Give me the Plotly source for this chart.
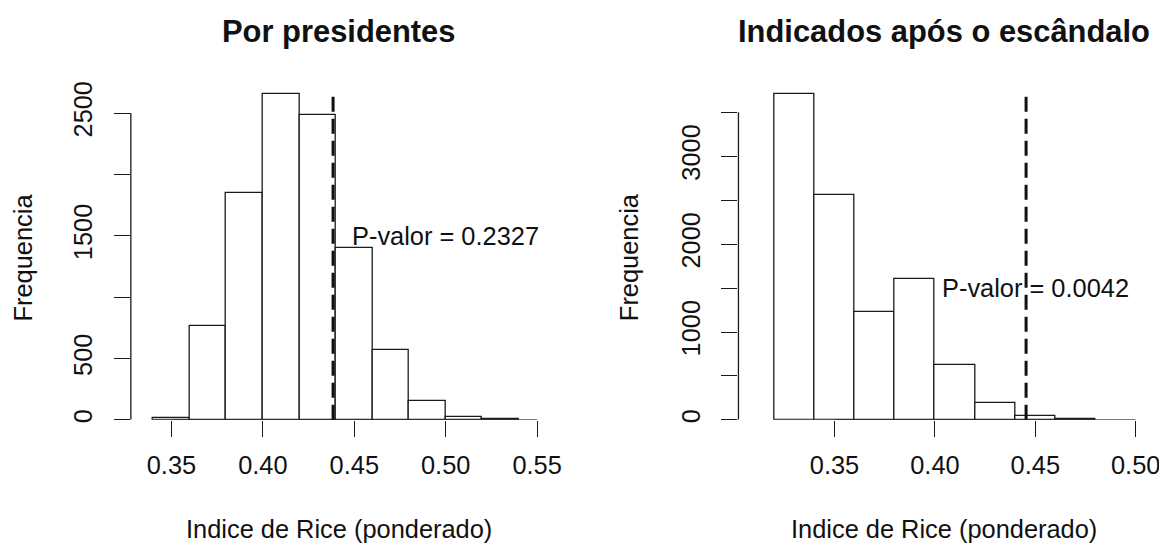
import plotly.graph_objects as go

# ---- data ----
left_breaks = [0.34, 0.36, 0.38, 0.40, 0.42, 0.44, 0.46, 0.48, 0.50, 0.52, 0.54]
left_counts = [15, 768, 1851, 2655, 2484, 1403, 570, 155, 27, 5]
left_obs = 0.4384
left_label = "P-valor = 0.2327"
left_label_pos = (0.50, 1500)

right_breaks = [0.32, 0.34, 0.36, 0.38, 0.40, 0.42, 0.44, 0.46, 0.48]
right_counts = [3712, 2557, 1231, 1598, 625, 189, 40, 15]
right_obs = 0.4454
right_label = "P-valor = 0.0042"
right_label_pos = (0.45, 1500)

left_xticks = [0.35, 0.40, 0.45, 0.50, 0.55]
left_yticks = [0, 500, 1000, 1500, 2000, 2500]
left_yticklabels = ["0", "500", "", "1500", "", "2500"]
right_xticks = [0.35, 0.40, 0.45, 0.50]
right_yticks = [0, 500, 1000, 1500, 2000, 2500, 3000, 3500]
right_yticklabels = ["0", "", "1000", "", "2000", "", "3000", ""]

titles = ["Por presidentes", "Indicados após o escândalo"]
xlabel = "Indice de Rice (ponderado)"
ylabel = "Frequencia"

# ---- geometry ----
# positions below are given in target-picture pixels and converted to page pixels
SX, SY, OY = 0.988, 0.975, 10.9          # observed capture mapping page -> picture
W, H = 1173, 548                         # page size of the figure

def pg_x(X):
    return X / SX

def pg_y(Y):
    return (Y - OY) / SY

def fx(X):
    return pg_x(X) / W

def fy(Y):
    return 1 - pg_y(Y) / H

FONT = "Liberation Sans, Arial, Helvetica, sans-serif"
FS = 25.4
TFS = 30.9
LC = "#1a1a1a"

y_bottom, y_top = 420, 92

L_dom = (130.5, 549)
Lsx = (535.7 - 171) / 0.20
L_xr = [0.35 - (171 - L_dom[0]) / Lsx, 0.35 + (L_dom[1] - 171) / Lsx]
Lsy = (420 - 113) / 2500
L_yr = [0, (y_bottom - y_top) / Lsy]

R_dom = (736.5, 1150)
Rsx = (1132.7 - 832.3) / 0.15
R_xr = [0.35 - (832.3 - R_dom[0]) / Rsx, 0.35 + (R_dom[1] - 832.3) / Rsx]
Rsy = (420 - 112.3) / 3500
R_yr = [0, (y_bottom - y_top) / Rsy]

fig = go.Figure()

def add_hist(breaks, counts, xa, ya):
    centers = [(breaks[i] + breaks[i + 1]) / 2 for i in range(len(counts))]
    widths = [breaks[i + 1] - breaks[i] for i in range(len(counts))]
    fig.add_trace(go.Bar(x=centers, y=counts, width=widths, xaxis=xa, yaxis=ya,
                         marker=dict(color="white", line=dict(color=LC, width=1.3)),
                         showlegend=False, hoverinfo="x+y"))

add_hist(left_breaks, left_counts, "x", "y")
add_hist(right_breaks, right_counts, "x2", "y2")

ax_common = dict(showgrid=False, zeroline=False, showline=False, ticks="outside",
                 tickcolor=LC, tickwidth=1.3, tickfont=dict(family=FONT, size=FS, color="#111"),
                 fixedrange=True)

fig.update_layout(
    width=W, height=H, margin=dict(l=0, r=0, t=0, b=0, pad=0),
    paper_bgcolor="white", plot_bgcolor="white", bargap=0,
    xaxis=dict(domain=[fx(L_dom[0]), fx(L_dom[1])], range=L_xr, anchor="y",
               tickvals=left_xticks, ticktext=[f"{v:.2f}" for v in left_xticks],
               ticklen=16.4, ticklabelstandoff=6, **ax_common),
    yaxis=dict(domain=[fy(y_bottom), fy(y_top)], range=L_yr, anchor="x",
               tickvals=left_yticks, ticktext=left_yticklabels, tickangle=-90,
               ticklen=16.2, ticklabelstandoff=11, **ax_common),
    xaxis2=dict(domain=[fx(R_dom[0]), fx(R_dom[1])], range=R_xr, anchor="y2",
                tickvals=right_xticks, ticktext=[f"{v:.2f}" for v in right_xticks],
                ticklen=16.4, ticklabelstandoff=6, **ax_common),
    yaxis2=dict(domain=[fy(y_bottom), fy(y_top)], range=R_yr, anchor="x2",
                tickvals=right_yticks, ticktext=right_yticklabels, tickangle=-90,
                ticklen=16.2, ticklabelstandoff=11, **ax_common),
)

shapes = []
for xref, yref, xt, yt, obs in [("x", "y", left_xticks, left_yticks, left_obs),
                                ("x2", "y2", right_xticks, right_yticks, right_obs)]:
    shapes.append(dict(type="line", xref=xref, yref=yref, x0=xt[0], x1=xt[-1], y0=0, y1=0,
                       line=dict(color=LC, width=1.3)))
    shapes.append(dict(type="line", xref=f"{xref} domain", yref=yref, x0=0, x1=0,
                       y0=yt[0], y1=yt[-1], line=dict(color=LC, width=1.3)))
    shapes.append(dict(type="line", xref=xref, yref=f"{yref} domain", x0=obs, x1=obs,
                       y0=0, y1=1, line=dict(color="#111", width=3, dash="15px,7px")))
fig.update_layout(shapes=shapes)

ann = []
ann.append(dict(xref="x", yref="y", x=left_label_pos[0], y=left_label_pos[1], text=left_label,
                showarrow=False, xanchor="center", yanchor="middle",
                font=dict(family=FONT, size=FS, color="#111")))
ann.append(dict(xref="x2", yref="y2", x=right_label_pos[0], y=right_label_pos[1], text=right_label,
                showarrow=False, xanchor="center", yanchor="middle",
                font=dict(family=FONT, size=FS, color="#111")))
for cx, ylx, t in [(337.9, 23, titles[0]), (941.5, 628, titles[1])]:
    ann.append(dict(xref="paper", yref="paper", x=fx(cx), y=fy(31), text=f"<b>{t}</b>",
                    showarrow=False, xanchor="center", yanchor="middle",
                    font=dict(family=FONT, size=TFS, color="#111")))
    ann.append(dict(xref="paper", yref="paper", x=fx(cx), y=fy(529), text=xlabel,
                    showarrow=False, xanchor="center", yanchor="middle",
                    font=dict(family=FONT, size=FS, color="#111")))
    ann.append(dict(xref="paper", yref="paper", x=fx(ylx), y=fy(257.5), text=ylabel,
                    textangle=-90, showarrow=False, xanchor="center", yanchor="middle",
                    font=dict(family=FONT, size=FS, color="#111")))
fig.update_layout(annotations=ann)

fig.write_html("out.html", config={"displayModeBar": False},
               post_script="document.body.style.margin='0';document.body.style.overflow='hidden';")
